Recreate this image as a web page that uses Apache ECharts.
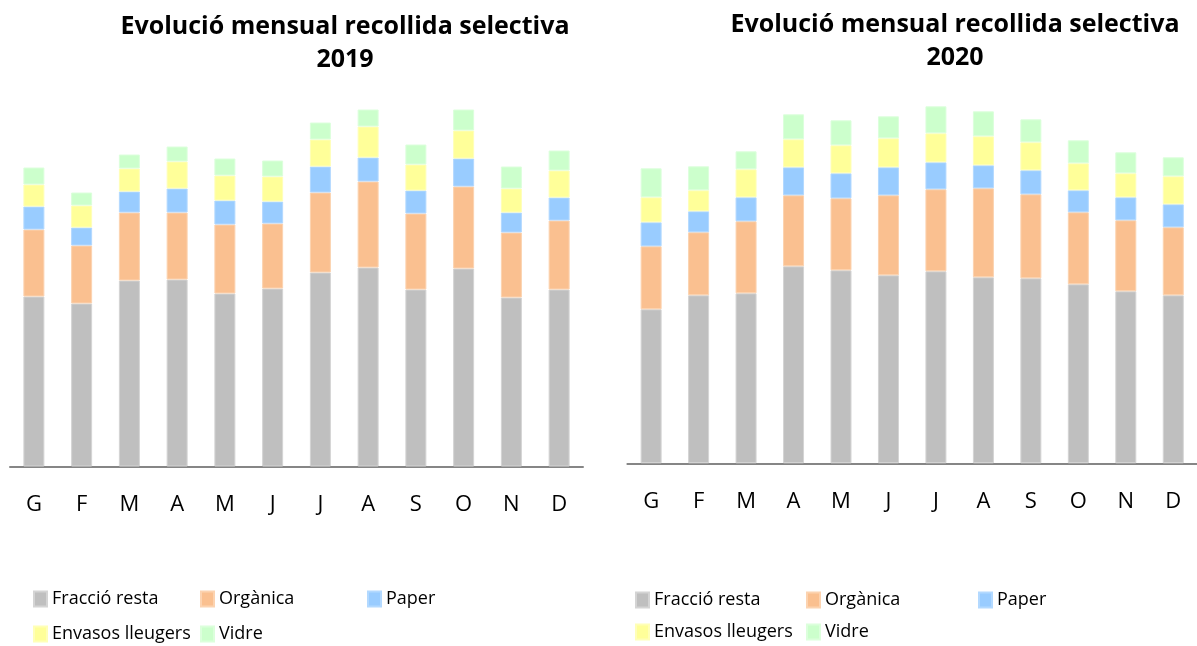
<!DOCTYPE html>
<html>
<head>
<meta charset="utf-8">
<script src="https://cdn.jsdelivr.net/npm/echarts@6/dist/echarts.min.js"></script>
<style>
html, body { margin: 0; padding: 0; background: #fff; }
#chart { width: 1197px; height: 646px; }
</style>
</head>
<body>
<div id="chart"></div>
<script>
'use strict';
var months = ['G', 'F', 'M', 'A', 'M', 'J', 'J', 'A', 'S', 'O', 'N', 'D'];
var seriesNames = ['Fracció resta', 'Orgànica', 'Paper', 'Envasos lleugers', 'Vidre'];
var seriesColors = ['#bfbfbf', '#fac090', '#99ccff', '#ffff99', '#ccffcc'];
var borderColors = ['#d4d4d4', '#fcd3b0', '#b3d9ff', '#ffffb8', '#dcffdc'];

// 2019
var resta2019 = [170, 163, 186, 187, 173, 178, 194, 199, 177, 198, 169, 177];
var organica2019 = [67, 58, 68, 67, 69, 65, 80, 86, 76, 82, 65, 69];
var paper2019 = [23, 18, 21, 24, 24, 22, 26, 24, 23, 28, 20, 23];
var envasos2019 = [22, 22, 23, 27, 25, 25, 27, 31, 26, 28, 24, 27];
var vidre2019 = [17, 13, 14, 15, 17, 16, 17, 17, 20, 21, 22, 20];

// 2020
var resta2020 = [154, 168, 170, 197, 193, 188, 192, 186, 185, 179, 172, 168];
var organica2020 = [63, 63, 72, 71, 72, 80, 82, 89, 84, 72, 71, 68];
var paper2020 = [24, 21, 24, 28, 25, 28, 27, 23, 24, 22, 23, 23];
var envasos2020 = [25, 21, 28, 28, 28, 29, 29, 29, 28, 27, 24, 28];
var vidre2020 = [29, 24, 18, 25, 25, 22, 27, 25, 23, 23, 21, 19];

var data2019 = [resta2019, organica2019, paper2019, envasos2019, vidre2019];
var data2020 = [resta2020, organica2020, paper2020, envasos2020, vidre2020];

var font = '"Open Sans", "Noto Sans", sans-serif';

var makeSeries = function (data, idx, stack) {
	return seriesNames.map(function (name, i) {
		return {
			name: name,
			type: 'bar',
			stack: stack,
			xAxisIndex: idx,
			yAxisIndex: idx,
			barWidth: 21,
			itemStyle: {
				color: seriesColors[i],
				borderColor: borderColors[i],
				borderWidth: 1
			},
			data: data[i]
		};
	});
};

var xAxisBase = function (idx) {
	return {
		type: 'category',
		gridIndex: idx,
		data: months,
		axisLine: { lineStyle: { color: '#868686', width: 2 } },
		axisTick: { show: false },
		axisLabel: { color: '#000', fontSize: 22, fontFamily: font, margin: 27 }
	};
};

var yAxisBase = function (idx) {
	return {
		type: 'value',
		gridIndex: idx,
		min: 0,
		max: 400,
		show: false,
		splitLine: { show: false }
	};
};

// legend positions: [left, top] per item
var legendPos2019 = [[33, 589], [200, 589], [367, 589], [33, 624], [200, 624]];
var legendPos2020 = [[635, 590], [806, 590], [978, 590], [635, 622], [806, 622]];
var legends = [];
seriesNames.forEach(function (name, i) {
	[legendPos2019, legendPos2020].forEach(function (pos) {
		legends.push({
			left: pos[i][0],
			top: pos[i][1],
			data: [name],
			icon: 'rect',
			itemWidth: 13,
			itemHeight: 15,
			selectedMode: false,
			padding: 0,
			textStyle: { color: '#000', fontSize: 18, fontFamily: font, lineHeight: 20 }
		});
	});
});

var titleStyle = { color: '#000', fontSize: 25, fontWeight: 'bold', fontFamily: font, lineHeight: 33 };

var option = {
	animation: false,
	title: [{
		text: 'Evolució mensual recollida selectiva\n2019',
		left: 340,
		top: 5,
		textAlign: 'center',
		textStyle: titleStyle
	}, {
		text: 'Evolució mensual recollida selectiva\n2020',
		left: 950,
		top: 3,
		textAlign: 'center',
		textStyle: titleStyle
	}],
	legend: legends,
	grid: [
		{ left: 10, width: 573, top: 66.5, height: 400 },
		{ left: 627.4, width: 579.3, top: 63.3, height: 400 }
	],
	xAxis: [xAxisBase(0), xAxisBase(1)],
	yAxis: [yAxisBase(0), yAxisBase(1)],
	series: makeSeries(data2019, 0, 'y2019').concat(makeSeries(data2020, 1, 'y2020'))
};

var myChart = echarts.init(document.getElementById('chart'));
myChart.setOption(option);
</script>
</body>
</html>
